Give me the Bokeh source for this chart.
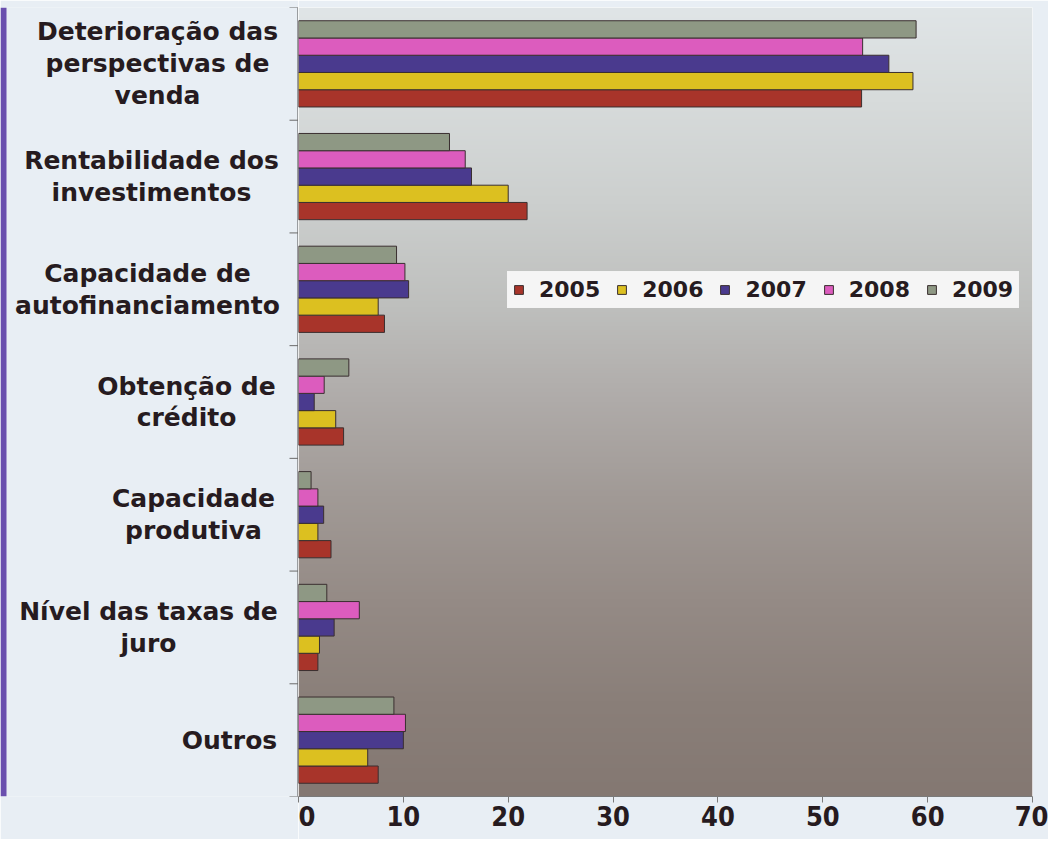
import numpy as np
from bokeh.plotting import figure
from bokeh.layouts import row
from bokeh.models import Range1d, FixedTicker, Legend, LegendItem, ColumnDataSource
from bokeh.core.properties import value
from bokeh.transform import dodge
from bokeh.embed import file_html
from bokeh.resources import INLINE

# ---------------- data ----------------
categories = [
    "Deterioração das\nperspectivas de\nvenda",
    "Rentabilidade dos\ninvestimentos",
    "Capacidade de\nautofinanciamento",
    "Obtenção de\ncrédito",
    "Capacidade\nprodutiva",
    "Nível das taxas de\njuro",
    "Outros",
]
years = ["2005", "2006", "2007", "2008", "2009"]
v2005 = [53.7, 21.8, 8.2, 4.3, 3.1, 1.85, 7.6]
v2006 = [58.6, 20.0, 7.6, 3.55, 1.85, 2.0, 6.6]
v2007 = [56.3, 16.5, 10.5, 1.5, 2.4, 3.4, 10.0]
v2008 = [53.8, 15.9, 10.15, 2.45, 1.85, 5.8, 10.2]
v2009 = [58.9, 14.4, 9.35, 4.8, 1.2, 2.7, 9.1]
series = [v2005, v2006, v2007, v2008, v2009]
x_ticks = [0, 10, 20, 30, 40, 50, 60, 70]

# ---------------- styles / layout ----------------
colors = ["#a8342a", "#dcc020", "#4a3a8e", "#dc5cbe", "#8e9884"]
label_centers_px = [157, 151, 147, 186, 193, 148, 229]  # block centre (px)
FONT = "DejaVu Sans"
TICK_FONT = "DejaVu Sans Condensed"
TEXT_COLOR = "#261b20"
PAGE_BG = "#e8eef4"
W, H = 1048, 839
LEFT_W = 298
TOP, BOTTOM = 7, 43
RIGHT = 16

n = len(categories)
ypos = [n - i - 0.5 for i in range(n)]
bar_h = 0.153
y_bounds = list(range(n + 1))

src = ColumnDataSource(dict(ypos=ypos, **{y: s for y, s in zip(years, series)}))
yr_shared = Range1d(0, n)

p = figure(width=W - LEFT_W, height=H, output_backend="svg", toolbar_location=None,
           x_range=Range1d(0, 70), y_range=yr_shared, y_axis_type=None,
           min_border_left=0, min_border_right=RIGHT, min_border_top=TOP,
           min_border_bottom=BOTTOM)
p.border_fill_color = PAGE_BG
p.outline_line_color = None
p.xgrid.visible = False
p.ygrid.visible = False

# gradient background of the plot area
stops_y = [0.0, 0.12, 0.25, 0.38, 0.50, 0.62, 0.75, 0.88, 1.0]  # from top
stops_c = ["#e0e5e7", "#d7dbdb", "#cccfce", "#bebfbd", "#afaba9", "#a19a96",
           "#958b86", "#8a7f79", "#847872"]
rows = 800
t = np.linspace(1, 0, rows)  # row 0 is bottom
rgb = np.array([[int(c[i:i + 2], 16) for i in (1, 3, 5)] for c in stops_c], float)
img = np.empty((rows, 2), dtype=np.uint32)
view = img.view(dtype=np.uint8).reshape((rows, 2, 4))
for k in range(3):
    ch = np.interp(t, stops_y, rgb[:, k])
    view[:, :, k] = ch[:, None].astype(np.uint8)
view[:, :, 3] = 255
p.image_rgba(image=[img], x=0, y=0, dw=70, dh=n, level="image")

renderers = []
for j, (yr, col) in enumerate(zip(years, colors)):
    r = p.hbar(y=dodge("ypos", (j - 2) * bar_h), right=yr, left=0, height=bar_h,
               source=src, fill_color=col, line_color="#3a2f30", line_width=1)
    renderers.append(r)

# x axis
p.xaxis.ticker = FixedTicker(ticks=x_ticks)
p.xaxis.major_label_text_font = TICK_FONT
p.xaxis.major_label_text_font_style = "bold"
p.xaxis.major_label_text_font_size = "27px"
p.xaxis.major_label_text_color = TEXT_COLOR
p.xaxis.major_label_standoff = 3
p.xaxis.major_tick_out = 6
p.xaxis.major_tick_in = 0
p.xaxis.minor_tick_out = 0
p.xaxis.minor_tick_in = 0
p.xaxis.axis_line_color = "#7a7a7a"
p.xaxis.major_tick_line_color = "#7a7a7a"

legend = Legend(items=[LegendItem(label=yr, renderers=[r]) for yr, r in zip(years, renderers)],
                orientation="horizontal", location=(209, 488))
legend.label_text_font = FONT
legend.label_text_font_style = "bold"
legend.label_text_font_size = "22px"
legend.label_text_color = TEXT_COLOR
legend.glyph_width = 11
legend.glyph_height = 11
legend.label_standoff = 15
legend.spacing = 16
legend.padding = 5
legend.margin = 0
legend.background_fill_color = "#f8f8f8"
legend.background_fill_alpha = 0.95
legend.border_line_color = "#f4f4f4"
legend.border_line_width = 1
p.add_layout(legend)

# ---------------- left panel: category labels, y axis line and ticks ----------------
lf = figure(width=LEFT_W, height=H, output_backend="svg", toolbar_location=None,
            x_range=Range1d(0, LEFT_W), y_range=yr_shared,
            x_axis_type=None, y_axis_type=None, min_border=0,
            min_border_top=TOP, min_border_bottom=BOTTOM)
lf.border_fill_color = PAGE_BG
lf.background_fill_color = PAGE_BG
lf.outline_line_color = None
lf.xgrid.visible = False
lf.ygrid.visible = False
# purple page edge
lf.quad(left=0, right=6, bottom=0, top=n, fill_color="#6a4fae", line_color=None)
# y axis line and category-boundary ticks
lf.segment(x0=LEFT_W - 0.5, x1=LEFT_W - 0.5, y0=0, y1=n, line_color="#4a4a4a", line_width=1)
lf.segment(x0=LEFT_W - 9, x1=LEFT_W, y0=y_bounds, y1=y_bounds, line_color="#6a6a6a",
           line_width=1)

lf.text(x=label_centers_px, y=ypos, text=categories,
        text_align="center", text_baseline="middle",
        text_font=value(FONT), text_font_style="bold", text_font_size="25px",
        text_color=TEXT_COLOR, text_line_height=1.1)

layout = row(lf, p, spacing=0)
open("out.html", "w").write(file_html(layout, INLINE))
